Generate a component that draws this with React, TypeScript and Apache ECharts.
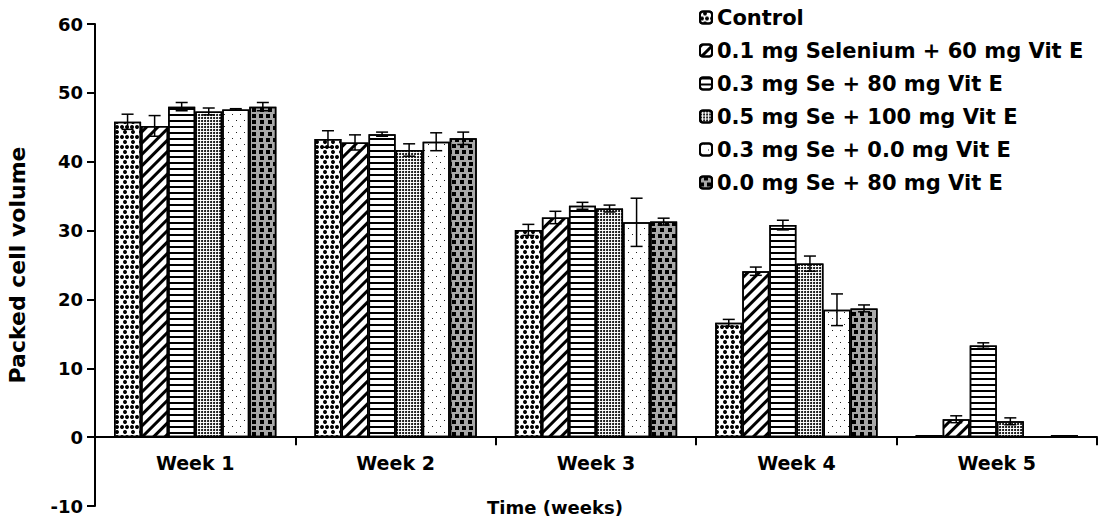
import React, { useEffect, useRef } from "react";
import * as echarts from "echarts";

const categories = ["Week 1", "Week 2", "Week 3", "Week 4", "Week 5"];
const seriesNames = [
  "Control",
  "0.1 mg Selenium + 60 mg Vit E",
  "0.3 mg Se + 80 mg Vit E",
  "0.5 mg Se + 100 mg Vit E",
  "0.3 mg Se + 0.0 mg Vit E",
  "0.0 mg Se + 80 mg Vit E",
];

const controlVals = [45.8, 43.3, 30.1, 16.6, 0.3];
const se01Vals = [45.2, 42.8, 31.9, 24.1, 2.6];
const se03e80Vals = [48.0, 44.0, 33.6, 30.8, 13.3];
const se05e100Vals = [47.3, 41.7, 33.2, 25.2, 2.3];
const se03e0Vals = [47.6, 42.9, 31.2, 18.5, 0];
const se0e80Vals = [48.0, 43.4, 31.3, 18.7, 0.3];

const controlErr = [1.1, 1.2, 0.8, 0.5, 0];
const se01Err = [1.5, 1.1, 0.9, 0.6, 0.5];
const se03e80Err = [0.6, 0.3, 0.5, 0.7, 0.4];
const se05e100Err = [0.5, 0.9, 0.5, 1.1, 0.5];
const se03e0Err = [0.1, 1.3, 3.5, 2.3, 0];
const se0e80Err = [0.6, 0.9, 0.5, 0.5, 0];

const allVals = [controlVals, se01Vals, se03e80Vals, se05e100Vals, se03e0Vals, se0e80Vals];
const allErr = [controlErr, se01Err, se03e80Err, se05e100Err, se03e0Err, se0e80Err];

const yTicks = { min: -10, max: 60, interval: 10 };

const FONT = "DejaVu Sans";
const CAT_GAP = 0.19;

const decals: any[] = [
  { symbol: "circle", symbolSize: 1, color: "#000", dashArrayX: [[4, 1], [0, 2.5, 4, 1, 0, 0]], dashArrayY: [4, 1] },
  { symbol: "rect", symbolSize: 1, color: "#000", dashArrayX: [1, 0], dashArrayY: [2.5, 4.5], rotation: -Math.PI / 4 },
  { symbol: "rect", symbolSize: 1, color: "#000", dashArrayX: [1, 0], dashArrayY: [2, 4] },
  { symbol: "circle", symbolSize: 1, color: "#000", dashArrayX: [2, 1], dashArrayY: [2, 1] },
  { symbol: "rect", symbolSize: 1, color: "#222", dashArrayX: [[1, 7], [0, 4, 1, 3]], dashArrayY: [1, 5] },
  { symbol: "rect", symbolSize: 1, color: "#000", dashArrayX: [[4, 3], [0, 3.5, 4, 0]], dashArrayY: [4, 2] },
];
const barFills = ["#fff", "#fff", "#fff", "#fff", "#fff", "#a8a8a8"];

export default function App() {
  const ref = useRef<HTMLDivElement>(null);
  useEffect(() => {
    document.body.style.margin = "0";
    const chart = echarts.init(ref.current!, null, { renderer: "svg" });

    const errData: number[][] = [];
    allVals.forEach((vals, si) => {
      vals.forEach((v, ci) => {
        errData.push([ci, si, v, allErr[si][ci]]);
      });
    });

    const barSeries = seriesNames.map((name, si) => ({
      type: "bar",
      name,
      data: allVals[si],
      barGap: "0%",
      barCategoryGap: CAT_GAP * 100 + "%",
      itemStyle: {
        color: barFills[si],
        borderColor: "#000",
        borderWidth: 1.5,
        decal: decals[si],
      },
      emphasis: { disabled: true },
      z: 2,
    }));

    const option: any = {
      animation: false,
      backgroundColor: "#fff",
      grid: { left: 95, right: 6, top: 24, bottom: 22, containLabel: false, outerBoundsMode: "none" },
      legend: {
        data: seriesNames,
        orient: "vertical",
        left: 694,
        top: 2,
        itemWidth: 12,
        itemHeight: 12,
        itemGap: 12,
        selectedMode: false,
        textStyle: { fontFamily: FONT, fontWeight: "bold", fontSize: 21, color: "#000", lineHeight: 21 },
      },
      xAxis: {
        type: "category",
        data: categories,
        axisLine: { onZero: true, lineStyle: { color: "#000", width: 2 } },
        axisTick: { show: true, length: 8, lineStyle: { color: "#000", width: 2 } },
        axisLabel: { fontFamily: FONT, fontWeight: "bold", fontSize: 19, color: "#000", margin: -53 },
        name: "Time (weeks)",
        nameLocation: "middle",
        nameGap: -8,
        nameTextStyle: { fontFamily: FONT, fontWeight: "bold", fontSize: 18, color: "#000", padding: [0, 82, 0, 0] },
      },
      yAxis: {
        type: "value",
        min: yTicks.min,
        max: yTicks.max,
        interval: yTicks.interval,
        axisLine: { show: true, onZero: false, lineStyle: { color: "#000", width: 2 } },
        axisTick: { show: true, length: 8, lineStyle: { color: "#000", width: 2 } },
        splitLine: { show: false },
        axisLabel: { fontFamily: FONT, fontWeight: "bold", fontSize: 18, color: "#000", margin: 12 },
        name: "Packed cell volume",
        nameLocation: "middle",
        nameGap: 67,
        nameRotate: 90,
        nameTextStyle: { fontFamily: FONT, fontWeight: "bold", fontSize: 22, color: "#000" },
      },
      series: [
        ...barSeries,
        {
          type: "custom",
          name: "errors",
          data: errData,
          encode: { x: 0, y: 2 },
          silent: true,
          z: 10,
          renderItem: (params: any, api: any) => {
            const ci = api.value(0);
            const si = api.value(1);
            const v = api.value(2);
            const e = api.value(3);
            if (!e) return null;
            const band = api.size([1, 0])[0];
            const groupW = band * (1 - CAT_GAP);
            const bw = groupW / 6;
            const c = api.coord([ci, v]);
            const x = c[0] - groupW / 2 + bw * (si + 0.5);
            const yT = api.coord([ci, v + e])[1];
            const yB = api.coord([ci, v - e])[1];
            const cap = 6;
            const st = { stroke: "#000", lineWidth: 1.5 };
            return {
              type: "group",
              children: [
                { type: "line", shape: { x1: x, y1: yT, x2: x, y2: yB }, style: st },
                { type: "line", shape: { x1: x - cap, y1: yT, x2: x + cap, y2: yT }, style: st },
                { type: "line", shape: { x1: x - cap, y1: yB, x2: x + cap, y2: yB }, style: st },
              ],
            };
          },
        },
      ],
    };
    chart.setOption(option);
    return () => chart.dispose();
  }, []);
  return <div ref={ref} style={{ width: 1103, height: 528 }} />;
}
